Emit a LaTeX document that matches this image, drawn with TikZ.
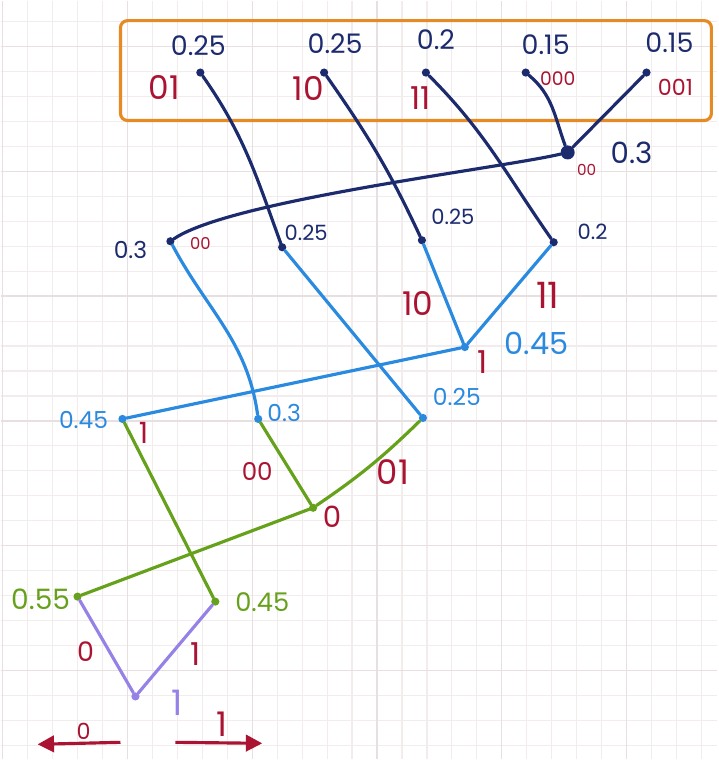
\documentclass[tikz,border=0pt]{standalone}
\usepackage{fontspec}
\setmainfont{Poppins}
\usetikzlibrary{arrows.meta, positioning}
\definecolor{navy}{HTML}{1C2A6E}
\definecolor{sky}{HTML}{2A8AE0}
\definecolor{leafgreen}{HTML}{66A11C}
\definecolor{lilac}{HTML}{9682E6}
\definecolor{codered}{HTML}{AA1432}
\definecolor{frameorange}{HTML}{E68A24}
\definecolor{gridfaint}{HTML}{F2ECED}
\definecolor{gridbold}{HTML}{E8DFE1}

\begin{document}
\begin{tikzpicture}[x=0.03cm, y=0.03cm,
    dot/.style={circle, fill, inner sep=0pt, minimum size=7pt},
    edge/.style={line width=2.7pt, line cap=round},
    val/.style={inner sep=0pt, font=\fontsize{#1}{#1}\selectfont},
    val/.default=20,
    bit/.style={inner sep=0pt, text=codered, font=\fontsize{#1}{#1}\selectfont},
    bit/.default=26,
    arrowline/.style={line width=2.7pt, codered, -{Triangle[length=14pt, width=14pt]}}]
        % Paper
        \fill[white] (0,0) rectangle (718,760);
        \foreach \gx in {2,27,...,717} \draw[gridfaint, line width=1pt] (\gx,0) -- (\gx,760);
        \foreach \gy in {14,39,...,760} \draw[gridfaint, line width=1pt] (0,\gy) -- (718,\gy);
        \foreach \gx in {2,127,...,717} \draw[gridbold, line width=1.2pt] (\gx,0) -- (\gx,760);
        \foreach \gy in {89,214,...,760} \draw[gridbold, line width=1.2pt] (0,\gy) -- (718,\gy);
        \useasboundingbox (0,0) rectangle (718,760);

        % Symbol box
        \draw[frameorange, line width=2.7pt, rounded corners=6pt] (120,640) rectangle (712,740);

        % Leaves
        \node[dot, navy] (lA) at (200,688) {};
        \node[dot, navy] (lB) at (324,688) {};
        \node[dot, navy] (lC) at (426,688) {};
        \node[dot, navy] (lD) at (526,688) {};
        \node[dot, navy] (lE) at (647,688) {};
        \node[val=23, navy] (pA) at (198,715) {0.25};
        \node[val=23, navy] (pB) at (335,717) {0.25};
        \node[val=23, navy] (pC) at (436,721) {0.2};
        \node[val=23, navy] (pD) at (546,716) {0.15};
        \node[val=23, navy] (pE) at (670,718) {0.15};
        \node[bit=28] (cA) at (164,673) {01};
        \node[bit=28] (cB) at (308,672) {10};
        \node[bit=27] (cC) at (421,662) {11};
        \node[bit=16] (cD) at (558,682) {000};
        \node[bit=19] (cE) at (676,673) {001};

        % Level 1
        \node[dot, navy, minimum size=12pt] (n1) at (568,608) {};
        \node[val=25, navy] (vn1) at (632,608) {0.3};
        \node[bit=13] (cn1) at (587,590) {00};
        \draw[edge, navy] (lD) to[out=-40, in=110] (n1);
        \draw[edge, navy] (lE) -- (n1);

        % Level 2
        \node[dot, navy] (m1) at (170,519) {};
        \node[dot, navy] (m2) at (282,513) {};
        \node[dot, navy] (m3) at (422,520) {};
        \node[dot, navy] (m4) at (554,518) {};
        \node[val=20, navy] (vm1) at (130,510) {0.3};
        \node[bit=14] (cm1) at (200,517) {00};
        \node[val=18, navy] (vm2) at (306,527) {0.25};
        \node[val=18, navy] (vm3) at (453,543) {0.25};
        \node[val=18, navy] (vm4) at (593,528) {0.2};
        \draw[edge, navy] (n1) .. controls (500,592) and (230,560) .. (m1);
        \draw[edge, navy] (lA) to[out=-55, in=110] (m2);
        \draw[edge, navy] (lB) to[out=-55, in=115] (m3);
        \draw[edge, navy] (lC) to[out=-45, in=125] (m4);

        % Level 3
        \node[dot, sky] (p1) at (465,413) {};
        \node[val=26, sky] (vp1) at (537,417) {0.45};
        \node[bit=27] (cp1) at (483,398) {1};
        \node[bit=28] (c10) at (418,457) {10};
        \node[bit=31] (c11) at (548,465) {11};
        \draw[edge, sky] (m3) -- (p1);
        \draw[edge, sky] (m4) -- (p1);

        % Level 4
        \node[dot, sky] (q1) at (122,341) {};
        \node[dot, sky] (q2) at (258,341) {};
        \node[dot, sky] (q3) at (423,342) {};
        \node[val=20, sky] (vq1) at (83,340) {0.45};
        \node[bit=25] (cq1) at (143,327) {1};
        \node[val=20, sky] (vq2) at (284,347) {0.3};
        \node[val=20, sky] (vq3) at (457,363) {0.25};
        \draw[edge, sky] (p1) -- (q1);
        \draw[edge, sky] (m1) to[out=-62, in=98] (q2);
        \draw[edge, sky] (m2) -- (q3);

        % Level 5
        \node[dot, leafgreen] (r1) at (313,252) {};
        \node[bit=25] (cr1) at (332,243) {0};
        \node[bit=21] (c00) at (257,288) {00};
        \node[bit=29] (c01) at (393,288) {01};
        \draw[edge, leafgreen] (q2) -- (r1);
        \draw[edge, leafgreen] (q3) to[bend left=5] (r1);

        % Level 6
        \node[dot, leafgreen] (s1) at (77,163) {};
        \node[dot, leafgreen] (s2) at (215,158) {};
        \node[val=24, leafgreen] (vs1) at (40,160) {0.55};
        \node[val=22, leafgreen] (vs2) at (262,157) {0.45};
        \draw[edge, leafgreen] (r1) -- (s1);
        \draw[edge, leafgreen] (q1) -- (s2);

        % Root
        \node[dot, lilac] (t) at (135,63) {};
        \node[val=30, lilac] (vt) at (177,57) {1};
        \node[bit=23] (cs1) at (85,108) {0};
        \node[bit=27] (cs2) at (195,105) {1};
        \draw[edge, lilac] (s1) -- (t);
        \draw[edge, lilac] (s2) -- (t);

        % Direction arrows
        \coordinate (zeroStart) at (120,17);
        \coordinate (zeroEnd) at (37,15);
        \coordinate (oneStart) at (175,17);
        \coordinate (oneEnd) at (262,16);
        \draw[arrowline] (zeroStart) -- (zeroEnd);
        \draw[arrowline] (oneStart) -- (oneEnd);
        \node[bit=19] (czero) at (83,28) {0};
        \node[bit=29] (cone) at (222,35) {1};
    \end{tikzpicture}
\end{document}
